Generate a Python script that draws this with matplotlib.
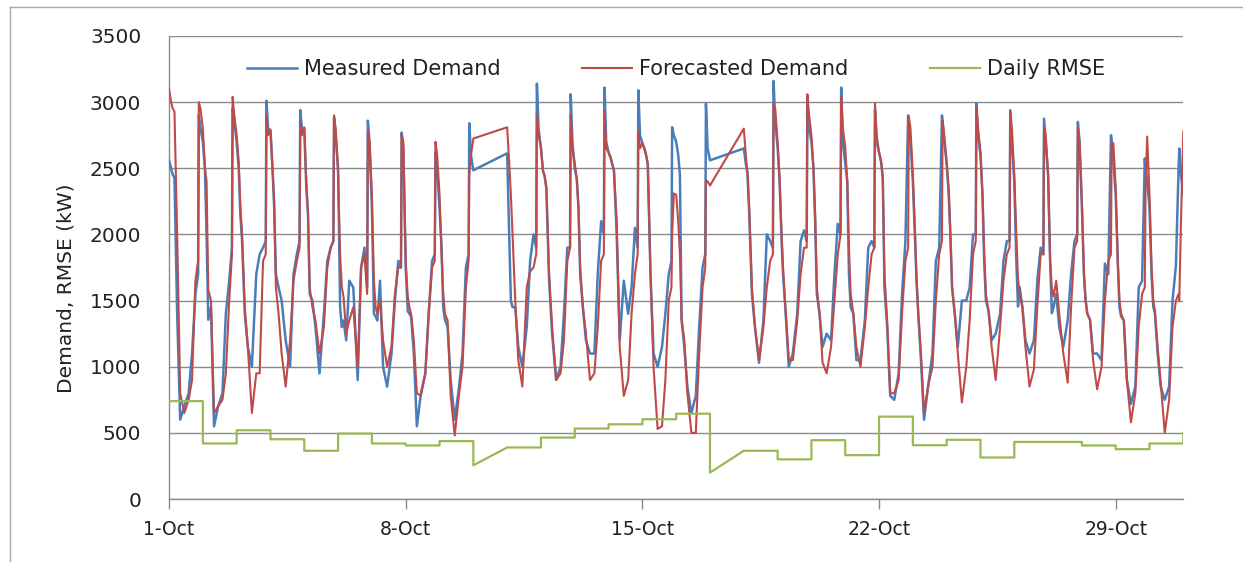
import numpy as np
import matplotlib
matplotlib.use("Agg")
import matplotlib.pyplot as plt
from matplotlib.lines import Line2D

nan = np.nan

# Sample times within each day (fraction of the day) for the demand profiles.
DAY_FRAC = [0.00, 0.06, 0.11, 0.16, 0.24, 0.33, 0.45, 0.58, 0.68, 0.78, 0.86, 0.88, 0.93]

# Measured demand (kW), one row per day starting 1-Oct; Oct 10 and Oct 17 missing.
MEASURED = [
    [2560, 2500, 2450, 2430, 1400, 600, 700, 800, 1100, 1550, 1700, 2900, 2800],
    [2700, 2500, 2000, 1355, 1450, 550, 700, 800, 1400, 1650, 1900, 2950, 2850],
    [2700, 2500, 2150, 1950, 1400, 1150, 1000, 1700, 1850, 1900, 1950, 3010, 2800],
    [2790, 2500, 2200, 1700, 1600, 1500, 1200, 1000, 1700, 1850, 1950, 2940, 2800],
    [2800, 2350, 2150, 1550, 1500, 1300, 950, 1400, 1800, 1900, 1950, 2880, 2750],
    [2500, 1450, 1300, 1350, 1200, 1650, 1600, 900, 1750, 1900, 1600, 2860, 2700],
    [2200, 1400, 1380, 1350, 1650, 1000, 850, 1100, 1500, 1800, 1750, 2770, 2650],
    [1750, 1420, 1400, 1380, 1100, 550, 800, 950, 1400, 1800, 1850, 2620, 2500],
    [2200, 1900, 1450, 1355, 1300, 900, 600, 850, 1100, 1750, 1850, 2840, 2600],
    [2485] + [nan] * 12,
    [2613, 2000, 1500, 1450, 1450, 1150, 1000, 1300, 1800, 2000, 1900, 3140, 2800],
    [2650, 2480, 2440, 2350, 1660, 1250, 900, 1000, 1400, 1900, 1900, 3060, 2700],
    [2500, 2420, 2200, 1700, 1450, 1200, 1100, 1100, 1700, 2100, 2000, 3110, 2700],
    [2620, 2580, 2530, 2480, 2000, 1200, 1650, 1400, 1600, 2050, 1900, 3090, 2750],
    [2690, 2650, 2600, 2530, 1700, 1100, 1000, 1150, 1400, 1700, 1800, 2810, 2750],
    [2700, 2600, 2450, 1355, 1150, 850, 650, 780, 1300, 1750, 1850, 2990, 2650],
    [2560] + [nan] * 12,
    [2650, 2535, 2460, 2160, 1550, 1300, 1030, 1350, 2000, 1950, 1900, 3160, 2850],
    [2660, 2400, 2000, 1700, 1400, 1000, 1100, 1400, 1950, 2030, 1950, 3010, 2800],
    [2700, 2500, 2100, 1550, 1400, 1150, 1250, 1200, 1700, 2080, 2000, 3110, 2700],
    [2540, 2400, 1700, 1450, 1400, 1050, 1050, 1350, 1900, 1950, 1900, 2940, 2700],
    [2620, 2550, 2430, 1600, 1300, 780, 750, 950, 1550, 1950, 2900, 2850, 2700],
    [2400, 2000, 1650, 1400, 1050, 600, 850, 1100, 1800, 1900, 2900, 2850, 2700],
    [2540, 2300, 2000, 1600, 1400, 1150, 1500, 1500, 1600, 2000, 2000, 2990, 2750],
    [2600, 2300, 1800, 1500, 1420, 1200, 1250, 1400, 1800, 1950, 1950, 2890, 2700],
    [2400, 1800, 1455, 1600, 1450, 1200, 1100, 1200, 1650, 1900, 1850, 2875, 2700],
    [2450, 1800, 1405, 1450, 1550, 1300, 1150, 1350, 1700, 1950, 2000, 2850, 2700],
    [2200, 1700, 1500, 1400, 1355, 1100, 1100, 1050, 1780, 1700, 2750, 2700, 2550],
    [2300, 1800, 1450, 1380, 1350, 900, 720, 850, 1600, 1650, 2575, 2500, 2400],
    [2200, 1700, 1455, 1405, 1100, 850, 750, 850, 1500, 1760, 2500, 2650, 2450],
    [2300] + [nan] * 12,
]

# Forecasted demand (kW), same layout.
FORECAST = [
    [3100, 3000, 2950, 2930, 2000, 800, 650, 750, 900, 1650, 1800, 3000, 2950],
    [2800, 2510, 2400, 1580, 1500, 650, 700, 750, 950, 1500, 1850, 3040, 2900],
    [2750, 2550, 2200, 2000, 1450, 1150, 650, 950, 950, 1800, 1850, 2900, 2750],
    [2790, 2500, 2250, 1600, 1400, 1100, 850, 1200, 1650, 1800, 1900, 2850, 2750],
    [2810, 2400, 2150, 1600, 1450, 1350, 1100, 1300, 1750, 1900, 1950, 2900, 2800],
    [2450, 1850, 1600, 1530, 1250, 1350, 1450, 1000, 1750, 1850, 1550, 2780, 2700],
    [2300, 1650, 1450, 1400, 1500, 1200, 1000, 1150, 1550, 1750, 1750, 2750, 2700],
    [1800, 1530, 1450, 1400, 1200, 800, 780, 950, 1400, 1750, 1800, 2700, 2600],
    [2300, 1850, 1550, 1400, 1350, 780, 480, 800, 1000, 1600, 1800, 2450, 2600],
    [2725] + [nan] * 12,
    [2810, 2550, 2300, 2000, 1500, 1050, 850, 1600, 1720, 1750, 1850, 2910, 2750],
    [2660, 2480, 2440, 2350, 1700, 1300, 900, 950, 1200, 1800, 1900, 2910, 2650],
    [2535, 2420, 2200, 1750, 1450, 1250, 900, 950, 1300, 1800, 1850, 2940, 2650],
    [2620, 2580, 2530, 2480, 2100, 1150, 780, 900, 1400, 1700, 1850, 2785, 2650],
    [2690, 2650, 2600, 2530, 1700, 1000, 530, 550, 900, 1500, 1600, 2000, 2310],
    [2300, 2100, 1850, 1355, 1200, 800, 500, 500, 1100, 1600, 1750, 2410, 2400],
    [2370] + [nan] * 12,
    [2800, 2600, 2450, 2200, 1600, 1300, 1050, 1300, 1600, 1800, 1850, 2990, 2950],
    [2700, 2400, 2050, 1750, 1405, 1050, 1050, 1350, 1700, 1900, 1900, 3060, 2900],
    [2750, 2500, 2150, 1600, 1400, 1030, 950, 1150, 1500, 1850, 2000, 3040, 2800],
    [2660, 2400, 1900, 1550, 1400, 1150, 1000, 1300, 1600, 1850, 1900, 2990, 2750],
    [2620, 2550, 2430, 1700, 1350, 800, 800, 900, 1400, 1800, 1900, 2890, 2800],
    [2450, 2050, 1650, 1400, 1100, 650, 850, 1000, 1500, 1850, 1950, 2860, 2750],
    [2540, 2350, 2000, 1600, 1400, 1100, 730, 1000, 1350, 1850, 1950, 2960, 2800],
    [2620, 2300, 1850, 1550, 1420, 1150, 900, 1300, 1650, 1850, 1900, 2940, 2800],
    [2450, 2000, 1660, 1550, 1450, 1150, 850, 980, 1450, 1850, 1850, 2810, 2750],
    [2450, 1800, 1600, 1530, 1650, 1400, 1100, 880, 1450, 1900, 1950, 2810, 2700],
    [2250, 1700, 1500, 1400, 1355, 1050, 830, 1000, 1500, 1800, 1850, 2690, 2690],
    [2350, 1800, 1500, 1400, 1350, 900, 580, 800, 1300, 1550, 1600, 2300, 2740],
    [2300, 1750, 1500, 1420, 1150, 880, 500, 750, 1300, 1500, 1550, 1500, 2100],
    [2780] + [nan] * 12,
]

# Daily RMSE (kW); gap days and the closing point only have a start value.
RMSE = [740, 420, 520, 452, 365, 495, 420, 405, 438, 255, 390, 465, 533, 565, 603,
        645, 200, 365, 300, 445, 332, 623, 407, 448, 314, 432, 432, 405, 377, 420, 502]
PARTIAL_DAYS = [9, 16, 30]

TICK_DAYS = [0, 7, 14, 21, 28]
TICK_LABELS = ["1-Oct", "8-Oct", "15-Oct", "22-Oct", "29-Oct"]

BLUE = "#4a7ebb"
RED = "#be4b48"
GREEN = "#98b954"
GRID = "#8a8a8a"


def profile(rows):
    t, v = [], []
    for d, row in enumerate(rows):
        for f, val in zip(DAY_FRAC, row):
            if not np.isnan(val):
                t.append(d + f)
                v.append(val)
    return np.array(t), np.array(v)


def rmse_steps():
    t, v = [], []
    for d, val in enumerate(RMSE):
        t.append(d)
        v.append(val)
        if d not in PARTIAL_DAYS:
            t.append(d + 1)
            v.append(val)
    return t, v


plt.rcParams["font.family"] = ["DejaVu Sans"]

fig = plt.figure(figsize=(12.43, 5.62), dpi=100)
ax = fig.add_axes([0.136, 0.112, 0.816, 0.824])

tm, vm = profile(MEASURED)
tf, vf = profile(FORECAST)
tr, vr = rmse_steps()

ax.plot(tm, vm, color=BLUE, lw=1.8, label="Measured Demand", zorder=3)
ax.plot(tf, vf, color=RED, lw=1.5, label="Forecasted Demand", zorder=4)
ax.plot(tr, vr, color=GREEN, lw=1.6, label="Daily RMSE", zorder=5)

ax.set_xlim(0, 30)
ax.set_ylim(0, 3500)
ax.set_yticks(range(0, 3501, 500))
ax.set_xticks(TICK_DAYS)
ax.set_xticklabels(TICK_LABELS)
ax.yaxis.grid(True, color=GRID, lw=1)
ax.set_axisbelow(True)

for s in ["top", "right"]:
    ax.spines[s].set_visible(False)
for s in ["left", "bottom"]:
    ax.spines[s].set_color(GRID)
    ax.spines[s].set_linewidth(1)

ax.tick_params(axis="y", length=0, pad=20, labelsize=14.5, colors="#222222")
ax.tick_params(axis="x", direction="out", length=7, width=1, color=GRID,
               pad=8, labelsize=13.5, labelcolor="#222222")
ax.set_ylabel("Demand, RMSE (kW)", fontsize=14.5, color="#222222")
ax.yaxis.set_label_coords(-0.092, 0.456)

leg = ax.legend(loc="upper center", bbox_to_anchor=(0.5, 0.99), ncol=3,
                frameon=False, fontsize=15, handlelength=2.4,
                handletextpad=0.35, columnspacing=3.9)
for txt in leg.get_texts():
    txt.set_color("#222222")

# chart border, as in the spreadsheet export
fig.add_artist(Line2D([10 / 1243, 10 / 1243], [0, 1 - 7 / 562],
                      transform=fig.transFigure, color="#a8a8a8", lw=1))
fig.add_artist(Line2D([10 / 1243, 1], [1 - 7 / 562, 1 - 7 / 562],
                      transform=fig.transFigure, color="#a8a8a8", lw=1))

fig.savefig("out.png", dpi=100, facecolor="white")
